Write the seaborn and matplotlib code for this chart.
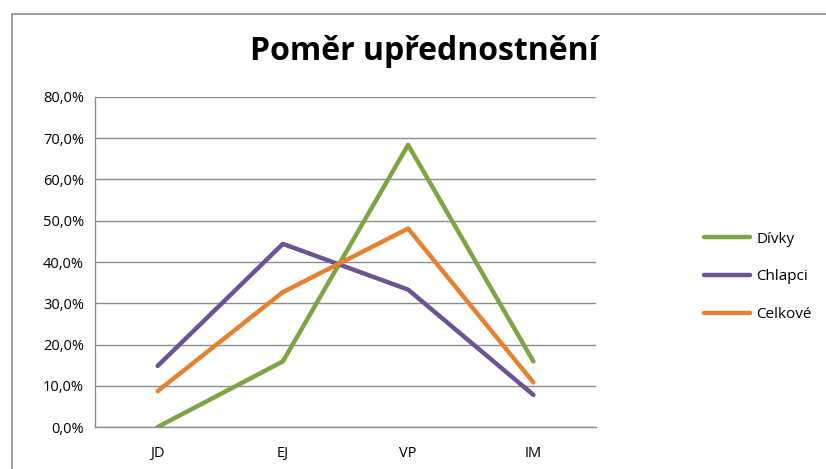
import pandas as pd
import seaborn as sns
import matplotlib.pyplot as plt
from matplotlib.patches import Rectangle
from matplotlib.ticker import FuncFormatter

# values (percent)
categories = ['JD', 'EJ', 'VP', 'IM']
divky = [0.0, 15.9, 68.4, 15.9]
chlapci = [14.8, 44.4, 33.3, 7.8]
celkove = [8.7, 32.7, 48.1, 10.8]

series_names = ['Dívky', 'Chlapci', 'Celkové']
colors = ['#7DA544', '#6B5396', '#E6822F']

rows = []
for name, vals in zip(series_names, [divky, chlapci, celkove]):
    for i, (cat, v) in enumerate(zip(categories, vals)):
        rows.append({'pos': i, 'kategorie': cat, 'serie': name, 'hodnota': v})
data = pd.DataFrame(rows)

sns.set_theme(style='white')
plt.rcParams['font.family'] = ['Open Sans', 'DejaVu Sans']
plt.rcParams['text.color'] = 'black'

fig = plt.figure(figsize=(8.26, 4.69), dpi=100)
ax = fig.add_axes([95 / 826, 1 - 427 / 469, 501 / 826, 330 / 469])

sns.lineplot(data=data, x='pos', y='hodnota', hue='serie', palette=colors,
             hue_order=series_names, linewidth=3.2, ax=ax, sort=False)

ax.set_xlim(-0.5, 3.5)
ax.set_ylim(0, 80)
ax.set_yticks(range(0, 81, 10))
ax.yaxis.set_major_formatter(FuncFormatter(lambda v, p: f'{v:.1f}%'.replace('.', ',')))
ax.set_xticks(range(len(categories)))
ax.set_xticklabels(categories)
ax.tick_params(axis='both', length=0, labelsize=10.5, labelcolor='black')
ax.tick_params(axis='x', pad=14)
ax.tick_params(axis='y', pad=8)
ax.grid(axis='y', color='#8C8C8C', linewidth=1)
ax.set_axisbelow(True)
ax.set_xlabel('')
ax.set_ylabel('')
for side in ['top', 'right']:
    ax.spines[side].set_visible(False)
for side in ['left', 'bottom']:
    ax.spines[side].set_color('#8C8C8C')
    ax.spines[side].set_linewidth(1)

fig.text(424 / 826, 1 - 52 / 469, 'Poměr upřednostnění', ha='center', va='center',
         fontsize=23, fontweight='bold', color='black')

handles, labels = ax.get_legend_handles_labels()
leg = ax.legend(handles, labels, loc='center left', bbox_to_anchor=(690 / 826, 1 - 277 / 469),
                bbox_transform=fig.transFigure, frameon=False, fontsize=11,
                handlelength=3.0, labelspacing=1.5, handletextpad=0.45)
for t in leg.get_texts():
    t.set_color('black')

# outer chart border
fig.patches.append(Rectangle((12 / 826, -0.05), 1.2, 1 - 14 / 469 + 0.05,
                             transform=fig.transFigure, fill=False,
                             edgecolor='#8C8C8C', linewidth=1.2))

fig.savefig('out.png', dpi=100)
